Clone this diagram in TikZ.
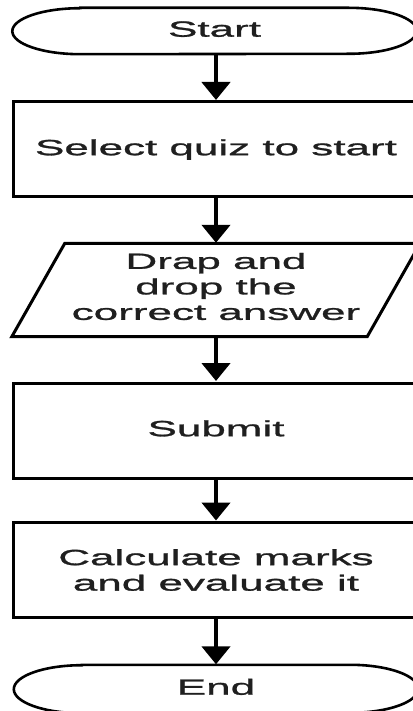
\documentclass[tikz,border=0pt]{standalone}
\usepackage{fontspec}
\newfontfamily\lbl[FakeStretch=2.0,FakeBold=1.2]{Liberation Sans}
\usetikzlibrary{arrows.meta,calc}

\tikzset{
  label text/.style={font=\lbl\fontsize{22}{25.5}\selectfont, text=black!88, align=center, inner sep=0pt},
  oneline/.style={text height=16pt, text depth=4.6pt},
  procbox/.style={label text, draw=black, line width=3pt, rectangle, minimum width=406pt, minimum height=95pt},
  termnode/.style={label text, oneline, minimum width=404pt},
  ionode/.style={minimum width=355pt, minimum height=93pt, inner sep=0pt},
  shapeline/.style={draw=black, line width=3pt, line join=miter},
  termline/.style={draw=black, line width=2.6pt},
  flow/.style={draw=black, line width=4.5pt, -{Triangle[width=28pt,length=18pt]}, shorten >=0.5pt},
}

\begin{document}
\begin{tikzpicture}[x=1pt,y=-1pt]
\useasboundingbox[fill=white] (0,0) rectangle (412,711);

% terminals and process steps
\node[termnode, minimum height=46pt] (start) at (214.5,31) {Start};
\node[procbox, oneline] (select) at (216,149.5) {Select quiz to start};
\node[ionode] (drag) at (216,290) {};
\node[label text] (dragtext) at (216,286.5) {Drap and\\drop the\\correct answer};
\node[procbox, oneline] (submit) at (216,430.5) {Submit};
\node[procbox] (calc) at (216,570) {Calculate marks\\and evaluate it};
\node[termnode, minimum height=48pt] (end) at (216,689) {End};

% stadium outlines with elliptic ends
\draw[termline] ([xshift=68pt]start.north west) -- ([xshift=-68pt]start.north east)
  arc[start angle=90, end angle=-90, x radius=68pt, y radius=23pt]
  -- ([xshift=68pt]start.south west)
  arc[start angle=270, end angle=90, x radius=68pt, y radius=23pt] -- cycle;
\draw[termline] ([xshift=68pt]end.north west) -- ([xshift=-68pt]end.north east)
  arc[start angle=90, end angle=-90, x radius=68pt, y radius=24pt]
  -- ([xshift=68pt]end.south west)
  arc[start angle=270, end angle=90, x radius=68pt, y radius=24pt] -- cycle;

% input/output parallelogram
\draw[shapeline] ([xshift=26.5pt]drag.north west) -- ([xshift=26.5pt]drag.north east)
  -- ([xshift=-26.5pt]drag.south east) -- ([xshift=-26.5pt]drag.south west) -- cycle;

% connectors
\draw[flow] (start.south -| select.north) -- (select.north);
\draw[flow] (select.south) -- (drag.north);
\draw[flow] (drag.south) -- (submit.north);
\draw[flow] (submit.south) -- (calc.north);
\draw[flow] (calc.south) -- (end.north);
\end{tikzpicture}
\end{document}
